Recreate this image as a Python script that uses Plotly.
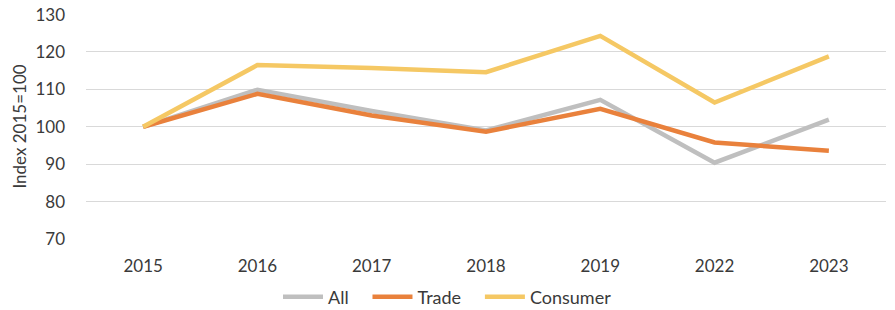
import plotly.graph_objects as go

years = ["2015", "2016", "2017", "2018", "2019", "2022", "2023"]
all_vals = [100, 109.9, 104.2, 99.0, 107.2, 90.4, 101.9]
trade_vals = [100, 108.8, 103.0, 98.7, 104.8, 95.8, 93.6]
consumer_vals = [100, 116.5, 115.7, 114.6, 124.3, 106.5, 118.8]
y_ticks = [70, 80, 90, 100, 110, 120, 130]
series_names = ["All", "Trade", "Consumer"]

pad = "\u00a0\u00a0\u00a0"
fig = go.Figure()
for i, (name, vals, color) in enumerate(zip(series_names,
                                            [all_vals, trade_vals, consumer_vals],
                                            ["#bfbfbf", "#e9813c", "#f5c864"])):
    label = name + (pad if i < len(series_names) - 1 else "")
    fig.add_trace(go.Scatter(x=years, y=vals, name=label, mode="lines",
                             line=dict(color=color, width=4.5)))

fig.update_layout(
    width=895, height=310,
    margin=dict(l=86, r=9, t=14, b=71),
    plot_bgcolor="white", paper_bgcolor="white",
    font=dict(family="Lato, Open Sans, sans-serif", size=16, color="#3a3a3a"),
    showlegend=True,
    legend=dict(orientation="h", x=0.5, xanchor="center", xref="container",
                y=0.042, yanchor="middle", yref="container",
                font=dict(size=18, color="#3a3a3a"), itemwidth=40),
    xaxis=dict(type="category", range=[-0.5, 6.5], showgrid=False, showline=False,
               ticks="", tickfont=dict(size=17), automargin=False,
               ticklabelstandoff=15),
    yaxis=dict(range=[70, 130.15], tickvals=y_ticks, showgrid=True, gridcolor="#d9d9d9",
               gridwidth=1, zeroline=False, showline=False, ticks="",
               ticklabelstandoff=20, automargin=False, ticklabeloverflow="allow",
               title=dict(text="Index 2015=100", font=dict(size=17), standoff=4),
               tickfont=dict(size=17)),
)

fig.write_html("out.html", config={"displayModeBar": False},
               post_script="document.body.style.margin='0';")
